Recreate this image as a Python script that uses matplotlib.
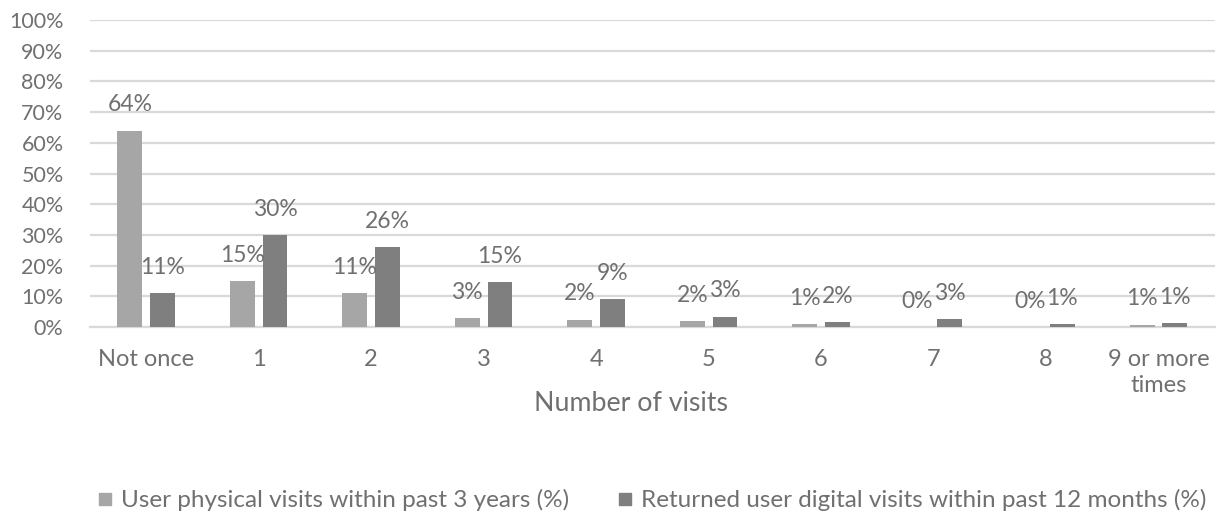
import matplotlib
matplotlib.use("Agg")
import matplotlib.pyplot as plt
from matplotlib.lines import Line2D
import numpy as np

# Visits per user: physical (3 years) vs digital (12 months)
categories = ["Not once", "1", "2", "3", "4", "5", "6", "7", "8", "9 or more\ntimes"]
physical = [64, 15, 11, 2.8, 2.4, 1.9, 0.9, 0, 0, 0.8]
digital = [11, 30, 26, 14.6, 9, 3.4, 1.6, 2.7, 1, 1.4]
series_names = ["User physical visits within past 3 years (%)",
                "Returned user digital visits within past 12 months (%)"]
y_ticks = list(range(0, 101, 10))

LIGHT = "#a6a6a6"
DARK = "#7f7f7f"
TEXT = "#707070"
GRID = "#d9d9d9"

plt.rcParams["font.family"] = ["Lato", "DejaVu Sans"]

fig = plt.figure(figsize=(12.27, 5.15), dpi=100)
ax = fig.add_axes([0.0733, 0.365, 0.9167, 0.596])

x = np.arange(len(categories))
w = 0.22
off = 0.145
b1 = ax.bar(x - off, physical, w, color=LIGHT, zorder=3)
b2 = ax.bar(x + off, digital, w, color=DARK, zorder=3)

for bars, vals in ((b1, physical), (b2, digital)):
    for rect, v in zip(bars, vals):
        ax.annotate(f"{v:.0f}%", (rect.get_x() + rect.get_width() / 2, v),
                    xytext=(0, 18.5), textcoords="offset points",
                    ha="center", va="center", fontsize=16.5, color=TEXT, zorder=4)

ax.set_xlim(-0.5, len(categories) - 0.5)
ax.set_ylim(0, 100)
ax.set_yticks(y_ticks)
ax.set_yticklabels([f"{t}%" for t in y_ticks])
ax.set_xticks(x)
ax.set_xticklabels(categories, linespacing=1.3)
ax.tick_params(axis="both", length=0, labelcolor=TEXT)
ax.tick_params(axis="x", pad=16, labelsize=17)
ax.tick_params(axis="y", pad=19, labelsize=15.5)

ax.grid(axis="y", color=GRID, lw=1.6, zorder=0)
for s in ["top", "right", "left"]:
    ax.spines[s].set_visible(False)
ax.spines["bottom"].set_color(GRID)
ax.spines["bottom"].set_linewidth(1.6)

ax.set_xlabel("Number of visits", fontsize=19.3, color=TEXT)
ax.xaxis.set_label_coords(0.481, -0.2476)
ax.xaxis.label.set_va("center")

handles = [Line2D([], [], marker="s", linestyle="none", markersize=9, color=LIGHT),
           Line2D([], [], marker="s", linestyle="none", markersize=9, color=DARK)]
leg = fig.legend(handles, series_names, loc="center", ncol=2,
                 bbox_to_anchor=(652 / 1227, 1 - 500 / 515), frameon=False,
                 fontsize=17.5, handlelength=0.6, handletextpad=0.35, columnspacing=2.0)
for t in leg.get_texts():
    t.set_color(TEXT)

fig.savefig("out.png", dpi=100, facecolor="white")
